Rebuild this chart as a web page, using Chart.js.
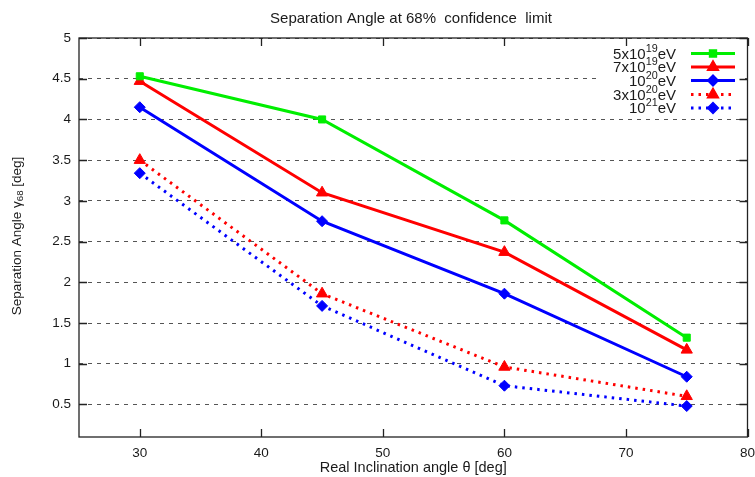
<!DOCTYPE html>
<html>
<head>
<meta charset="utf-8">
<script src="https://cdn.jsdelivr.net/npm/chart.js@4.4.0/dist/chart.umd.min.js"></script>
<style>
  html, body { margin: 0; padding: 0; background: #fff; }
  #wrap { width: 755px; height: 477px; }
</style>
</head>
<body>
<div id="wrap"><canvas id="grafico"></canvas></div>
<script>
// inclination angles (deg)
const angulos = [30, 45, 60, 75];

// separation angle at 68% (deg), one array per energy
const sep5e19 = [4.53, 4.00, 2.76, 1.32];
const sep7e19 = [4.47, 3.10, 2.37, 1.17];
const sep1e20 = [4.15, 2.75, 1.86, 0.84];
const sep3e20 = [3.50, 1.86, 0.96, 0.60];
const sep1e21 = [3.34, 1.71, 0.73, 0.48];

// legend labels: [base, superscript, tail]
const etiquetas = [
    ['5x10', '19', 'eV'],
    ['7x10', '19', 'eV'],
    ['10', '20', 'eV'],
    ['3x10', '20', 'eV'],
    ['10', '21', 'eV']
];

const titulo = 'Separation Angle at 68%  confidence  limit';
const tituloX = 'Real Inclination angle \u03b8 [deg]';
const tituloY = [['Separation Angle \u03b3', 0], ['68', -1], [' [deg]', 0]];

const FUENTE = '"Liberation Sans", Arial, Helvetica, sans-serif';
const TEXTO = '#1a1a1a';

function puntos(vals) {
    return vals.map((v, i) => ({ x: angulos[i], y: v }));
}

const estilos = [
    { color: '#00ee00', punto: 'rect', radio: 5, dash: [] },
    { color: '#ff0000', punto: 'triangle', radio: 6.5, dash: [] },
    { color: '#0000ff', punto: 'rectRot', radio: 5.5, dash: [] },
    { color: '#ff0000', punto: 'triangle', radio: 6.5, dash: [2.5, 5] },
    { color: '#0000ff', punto: 'rectRot', radio: 5.5, dash: [2.5, 5] }
];
const series = [sep5e19, sep7e19, sep1e20, sep3e20, sep1e21];

const datasets = series.map((s, i) => ({
    label: etiquetas[i].join(''),
    data: puntos(s),
    borderColor: estilos[i].color,
    backgroundColor: estilos[i].color,
    borderWidth: 3,
    borderDash: estilos[i].dash,
    pointStyle: estilos[i].punto,
    pointRadius: estilos[i].radio,
    pointBorderWidth: 1,
    pointHoverRadius: estilos[i].radio,
    tension: 0
}));

// draws text pieces; nivel 1 = superscript, -1 = subscript
function anchoRico(ctx, partes, tam) {
    let w = 0;
    partes.forEach(([t, nivel]) => {
        ctx.font = (nivel ? tam * 0.72 : tam) + 'px ' + FUENTE;
        w += ctx.measureText(t).width;
    });
    return w;
}

function dibujarRico(ctx, partes, x, y, tam) {
    partes.forEach(([t, nivel]) => {
        ctx.font = (nivel ? tam * 0.72 : tam) + 'px ' + FUENTE;
        const dy = nivel === 1 ? -tam * 0.38 : (nivel === -1 ? tam * 0.27 : 0);
        ctx.fillText(t, x, y + dy);
        x += ctx.measureText(t).width;
    });
}

const marco = {
    id: 'marco',
    beforeDatasetsDraw(chart) {
        const ctx = chart.ctx;
        ctx.save();
        ctx.fillStyle = '#fff';
        ctx.fillRect(596, 43, 148, 72);
        ctx.restore();
    },
    afterDraw(chart) {
        const { ctx, chartArea: a, scales: { x, y } } = chart;
        ctx.save();
        ctx.strokeStyle = '#222';
        ctx.lineWidth = 1.3;
        ctx.strokeRect(a.left, a.top, a.right - a.left, a.bottom - a.top);
        ctx.beginPath();
        x.ticks.forEach(t => {
            const px = Math.round(x.getPixelForValue(t.value)) + 0.5;
            ctx.moveTo(px, a.bottom); ctx.lineTo(px, a.bottom - 8);
            ctx.moveTo(px, a.top); ctx.lineTo(px, a.top + 8);
        });
        y.ticks.forEach(t => {
            const py = Math.round(y.getPixelForValue(t.value)) + 0.5;
            ctx.moveTo(a.left, py); ctx.lineTo(a.left + 8, py);
            ctx.moveTo(a.right, py); ctx.lineTo(a.right - 8, py);
        });
        ctx.stroke();

        // title
        ctx.fillStyle = TEXTO;
        ctx.textBaseline = 'middle';
        ctx.textAlign = 'center';
        ctx.font = '15px ' + FUENTE;
        ctx.fillText(titulo, 411, 19);

        // y axis title
        ctx.save();
        ctx.translate(17, 236);
        ctx.rotate(-Math.PI / 2);
        ctx.textAlign = 'left';
        const wy = anchoRico(ctx, tituloY, 13.5);
        dibujarRico(ctx, tituloY, -wy / 2, 0, 13.5);
        ctx.restore();

        // legend
        ctx.textAlign = 'left';
        const filas = [53.5, 67, 80.5, 94.5, 108];
        etiquetas.forEach((et, i) => {
            const partes = [[et[0], 0], [et[1], 1], [et[2], 0]];
            const w = anchoRico(ctx, partes, 15);
            ctx.fillStyle = TEXTO;
            dibujarRico(ctx, partes, 676 - w, filas[i] + 1, 15);
            const e = estilos[i];
            ctx.save();
            ctx.strokeStyle = e.color;
            ctx.lineWidth = 3;
            ctx.setLineDash(e.dash);
            ctx.beginPath();
            ctx.moveTo(691, filas[i]);
            ctx.lineTo(735, filas[i]);
            ctx.stroke();
            ctx.restore();
            ctx.fillStyle = e.color;
            ctx.strokeStyle = e.color;
            Chart.helpers.drawPoint(ctx, { pointStyle: e.punto, radius: e.radio, rotation: 0, borderWidth: 1 }, 713, filas[i]);
        });
        ctx.restore();
    }
};

document.addEventListener('DOMContentLoaded', function() {
    const ctx = document.getElementById('grafico').getContext('2d');
    new Chart(ctx, {
        type: 'line',
        data: { datasets: datasets },
        options: {
            responsive: true,
            maintainAspectRatio: false,
            animation: false,
            layout: { padding: { top: 38, right: 0, left: 0, bottom: 0 } },
            plugins: {
                legend: { display: false },
                title: { display: false },
                tooltip: { enabled: false }
            },
            scales: {
                x: {
                    type: 'linear',
                    min: 25,
                    max: 80,
                    afterFit: s => { s.height = 40; s.paddingRight = 7; s.paddingLeft = 0; },
                    ticks: { stepSize: 10, includeBounds: false, padding: 8, color: TEXTO, font: { family: FUENTE, size: 13.5 }, maxRotation: 0 },
                    grid: { display: false, drawTicks: false },
                    border: { display: false },
                    title: { display: true, text: tituloX, color: TEXTO, font: { family: FUENTE, size: 14.5 }, padding: { top: 0, bottom: 0 } }
                },
                y: {
                    min: 0.1,
                    max: 5,
                    afterFit: s => { s.width = 79; },
                    ticks: {
                        stepSize: 0.5, includeBounds: false, padding: 8, color: TEXTO,
                        font: { family: FUENTE, size: 13.5 },
                        callback: v => String(v)
                    },
                    grid: { color: '#555', lineWidth: 1, drawTicks: false },
                    border: { display: false, dash: [4, 5] }
                }
            }
        },
        plugins: [marco]
    });
});
</script>
</body>
</html>
